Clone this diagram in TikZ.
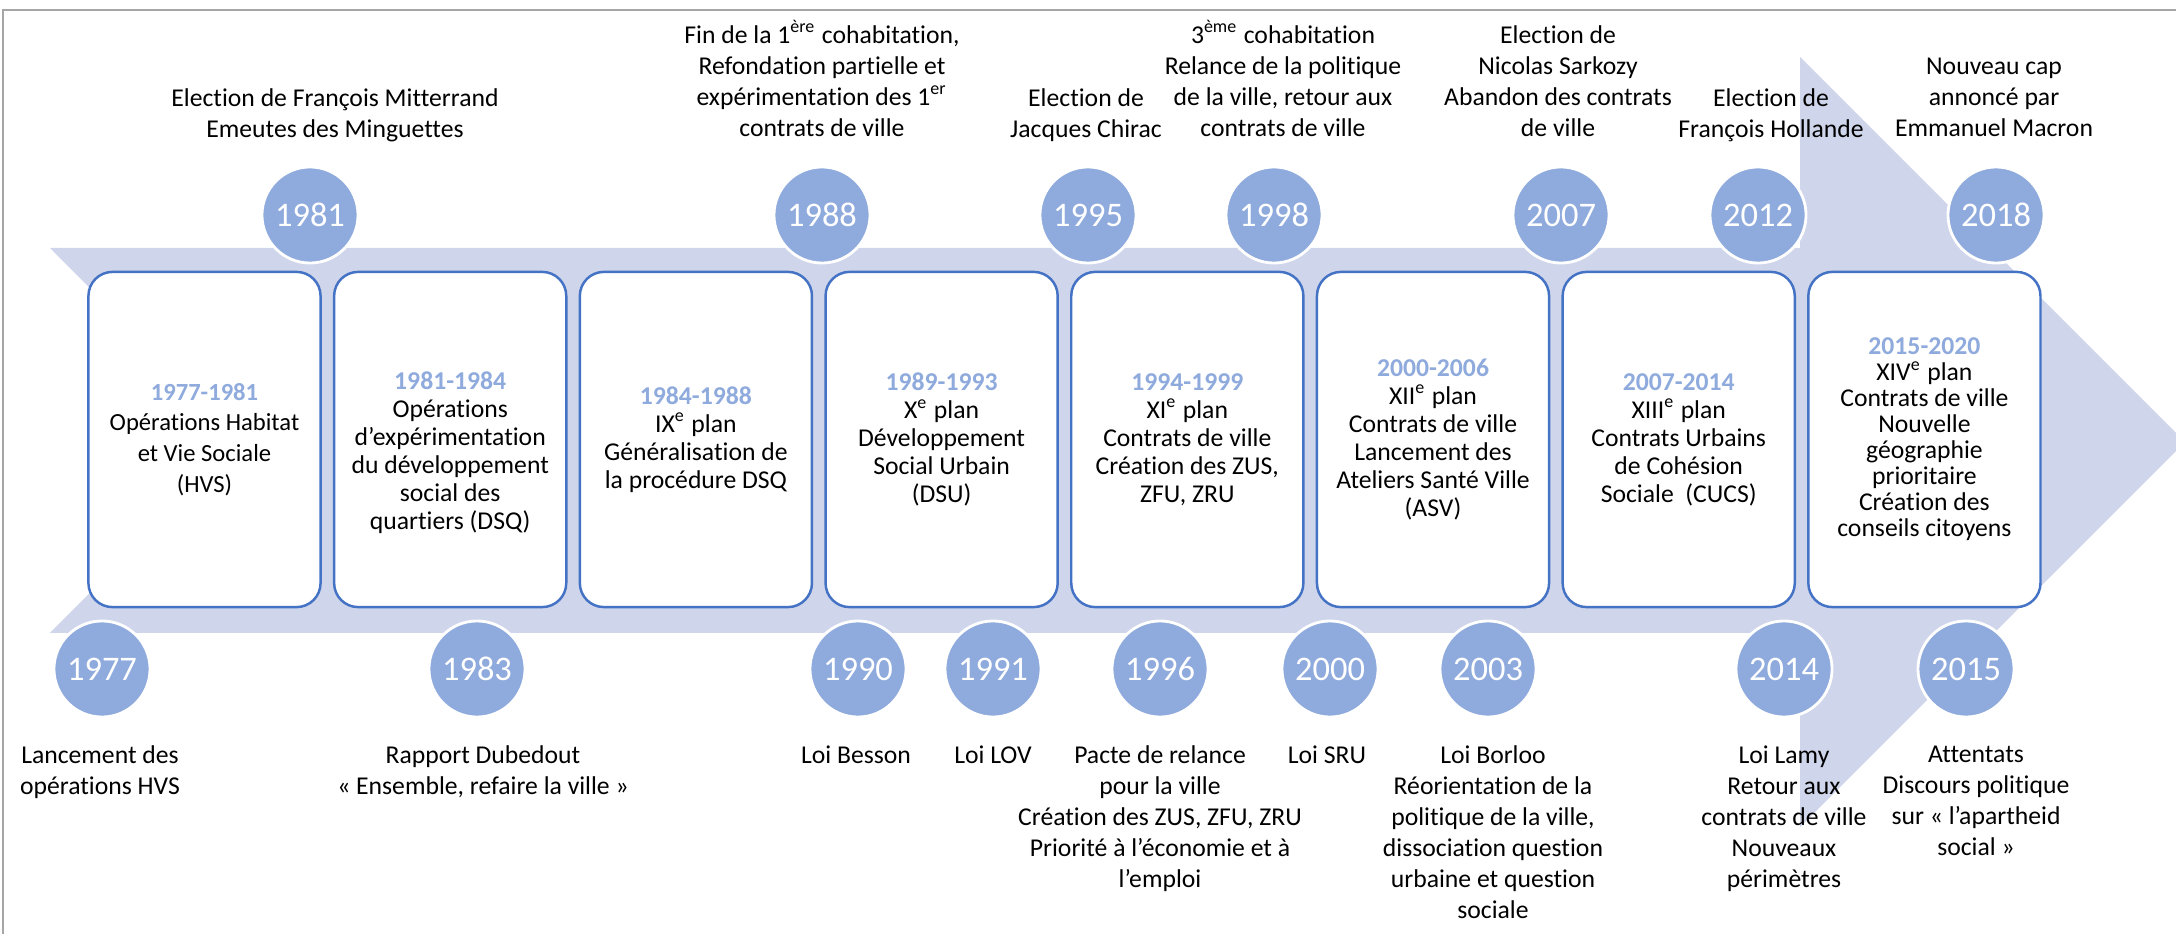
\documentclass[tikz,border=0pt]{standalone}
\usepackage{fontspec}
\setmainfont{Carlito}[Ligatures=NoCommon]
\definecolor{bande}{HTML}{CFD5EA}
\definecolor{rond}{HTML}{8FAADC}
\definecolor{cadre}{HTML}{4472C4}
\definecolor{bord}{HTML}{A6A6A6}
\newcommand{\expo}[1]{\smash{\textsuperscript{#1}}}
\tikzset{
	annee/.style={circle, fill=rond, draw=white, line width=0.8pt, minimum size=0.96cm, inner sep=0pt, text=white, font=\fontsize{9.8}{11}\selectfont},
	boite/.style={draw=cadre, line width=0.7pt, fill=white, rounded corners=0.24cm, minimum width=2.32cm, minimum height=3.35cm, inner sep=0pt},
	texte/.style={align=center, inner sep=0pt, font=\fontsize{7.3}{8.8}\selectfont},
	contenu/.style={align=center, inner sep=0pt, font=\fontsize{7.3}{7.95}\selectfont}
}
\begin{document}
\begin{tikzpicture}[x=0.01cm, y=-0.01cm]
			\useasboundingbox (0,0) rectangle (2176,934);
			\draw[bord, line width=0.6pt] (3,940) -- (3,10) -- (2180,10);% frame
			
			% arrow band
			\fill[bande] (50,248) -- (1800,248) -- (1800,57) -- (2185,442) -- (1800,827) -- (1800,633) -- (50,633) -- (242,440.5) -- cycle;
			
			% boxes
			\foreach \i in {0,...,7} {
				\node[boite] (b\i) at ({204.5+245.7*\i}, 439.5) {};
			}
			
			\node[contenu, font=\fontsize{7}{8.7}\selectfont] (c0) at (b0) {\textcolor{rond}{\bfseries 1977-1981}\\Opérations Habitat\\et Vie Sociale\\(HVS)};
			\node[contenu] (c1) at ([yshift=-0.13cm]b1) {\textcolor{rond}{\bfseries 1981-1984}\\Opérations\\d’expérimentation\\du développement\\social des\\quartiers (DSQ)};
			\node[contenu] (c2) at (b2) {\textcolor{rond}{\bfseries 1984-1988}\\IX\expo{e} plan\\Généralisation de\\la procédure DSQ};
			\node[contenu] (c3) at (b3) {\textcolor{rond}{\bfseries 1989-1993}\\X\expo{e} plan\\Développement\\Social Urbain\\(DSU)};
			\node[contenu] (c4) at (b4) {\textcolor{rond}{\bfseries 1994-1999}\\XI\expo{e} plan\\Contrats de ville\\Création des ZUS,\\ZFU, ZRU};
			\node[contenu] (c5) at (b5) {\textcolor{rond}{\bfseries 2000-2006}\\XII\expo{e} plan\\Contrats de ville\\Lancement des\\Ateliers Santé Ville\\(ASV)};
			\node[contenu] (c6) at (b6) {\textcolor{rond}{\bfseries 2007-2014}\\XIII\expo{e} plan\\Contrats Urbains\\de Cohésion\\Sociale~ (CUCS)};
			\node[contenu, font=\fontsize{7.3}{7.4}\selectfont] (c7) at (b7) {\textcolor{rond}{\bfseries 2015-2020}\\XIV\expo{e} plan\\Contrats de ville\\Nouvelle\\géographie\\prioritaire\\Création des\\conseils citoyens};
			
			% year circles, above and below
			\foreach \an/\x in {1981/310, 1988/822, 1995/1088, 1998/1274, 2007/1561, 2012/1758, 2018/1996} {
				\node[annee] (a\an) at (\x, 215) {\an};
			}
			\foreach \an/\x in {1977/102, 1983/477, 1990/858, 1991/993, 1996/1160, 2000/1330, 2003/1488, 2014/1784, 2015/1966} {
				\node[annee] (a\an) at (\x, 669) {\an};
			}
			
			% events above
			\node[texte, anchor=north] (e1981) at (335,88) {Election de François Mitterrand\\Emeutes des Minguettes};
			\node[texte, anchor=north] (e1988) at (822,25) {Fin de la 1\expo{ère} cohabitation,\\Refondation partielle et\\expérimentation des 1\expo{er}\\contrats de ville};
			\node[texte, anchor=north] (e1995) at (1086,88) {Election de\\Jacques Chirac};
			\node[texte, anchor=north] (e1998) at (1283,25) {3\expo{ème} cohabitation\\Relance de la politique\\de la ville, retour aux\\contrats de ville};
			\node[texte, anchor=north] (e2007) at (1558,25) {Election de\\Nicolas Sarkozy\\Abandon des contrats\\de ville};
			\node[texte, anchor=north] (e2012) at (1771,88) {Election de\\François Hollande};
			\node[texte, anchor=north] (e2018) at (1994,57) {Nouveau cap\\annoncé par\\Emmanuel Macron};
			
			% events below
			\node[texte, anchor=north] (e1977) at (100,745) {Lancement des\\opérations HVS};
			\node[texte, anchor=north] (e1983) at (483,745) {Rapport Dubedout\\« Ensemble, refaire la ville »};
			\node[texte, anchor=north] (e1990) at (856,745) {Loi Besson};
			\node[texte, anchor=north] (e1991) at (993,745) {Loi LOV};
			\node[texte, anchor=north] (e1996) at (1160,745) {Pacte de relance\\pour la ville\\Création des ZUS, ZFU, ZRU\\Priorité à l’économie et à\\l’emploi};
			\node[texte, anchor=north] (e2000) at (1327,745) {Loi SRU};
			\node[texte, anchor=north] (e2003) at (1493,745) {Loi Borloo\\Réorientation de la\\politique de la ville,\\dissociation question\\urbaine et question\\sociale};
			\node[texte, anchor=north] (e2014) at (1784,745) {Loi Lamy\\Retour aux\\contrats de ville\\Nouveaux\\périmètres};
			\node[texte, anchor=north] (e2015) at (1976,745) {Attentats\\Discours politique\\sur « l’apartheid\\social »};
\end{tikzpicture}
\end{document}
